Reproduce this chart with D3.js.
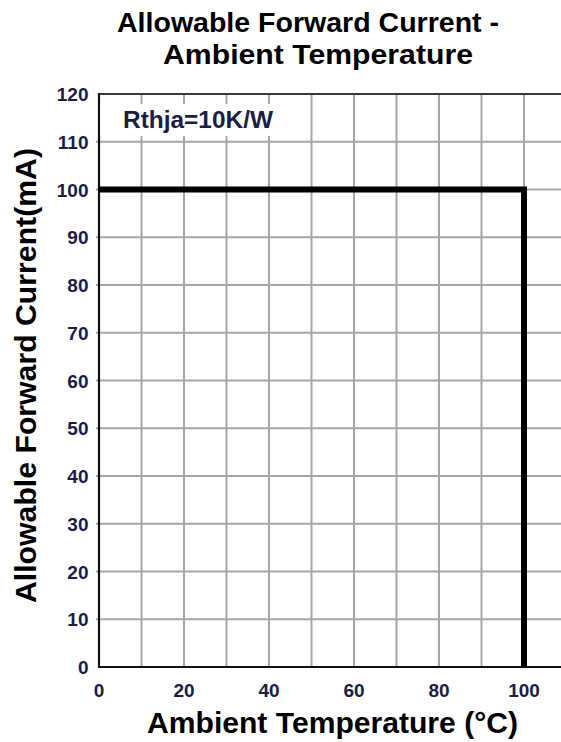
<!DOCTYPE html>
<html>
<head>
<meta charset="utf-8">
<script src="https://cdn.jsdelivr.net/npm/d3@7"></script>
<style>
  html, body { margin: 0; padding: 0; background: #fff; }
  svg { display: block; }
  text { font-family: "Liberation Sans", Arial, sans-serif; font-weight: bold; }
</style>
</head>
<body>
<svg id="chart" width="561" height="742"></svg>
<script>
// Derating curve: allowable forward current vs ambient temperature
const temperature = [0, 100, 100];          // °C
const current = [100, 100, 0];              // mA
const xTickLabels = [0, 20, 40, 60, 80, 100];
const yTickLabels = [0, 10, 20, 30, 40, 50, 60, 70, 80, 90, 100, 110, 120];
const xGrid = [10, 20, 30, 40, 50, 60, 70, 80, 90, 100, 110];
const titleLines = ["Allowable Forward Current -", "Ambient Temperature"];
const xTitle = "Ambient Temperature (°C)";
const yTitle = "Allowable Forward Current(mA)";
const note = "Rthja=10K/W";

const svg = d3.select("#chart");
const plotLeft = 99, plotTop = 94, plotBottom = 667;

const x = d3.scaleLinear().domain([0, 110]).range([plotLeft, plotLeft + 467.5]);
const y = d3.scaleLinear().domain([0, 120]).range([plotBottom, plotTop]);

const tickColor = "#1c1c44";

// grid
const grid = svg.append("g");
grid.selectAll("line.v").data(xGrid).join("line")
  .attr("x1", d => x(d)).attr("x2", d => x(d))
  .attr("y1", y(120)).attr("y2", y(0))
  .attr("stroke", "#a6a6a6").attr("stroke-width", 2);
grid.selectAll("line.h").data(yTickLabels.filter(d => d > 0 && d < 120)).join("line")
  .attr("x1", x(0) - 3).attr("x2", x(110))
  .attr("y1", d => y(d)).attr("y2", d => y(d))
  .attr("stroke", "#a6a6a6").attr("stroke-width", 2);

// frame: top border, left and bottom axes
svg.append("line").attr("x1", x(0)).attr("x2", x(110)).attr("y1", y(120)).attr("y2", y(120))
  .attr("stroke", "#3a3a3a").attr("stroke-width", 2.2);
svg.append("line").attr("x1", x(0)).attr("x2", x(110)).attr("y1", y(0)).attr("y2", y(0))
  .attr("stroke", "#111").attr("stroke-width", 2.2);
svg.append("line").attr("x1", x(0)).attr("x2", x(0)).attr("y1", y(120) - 1).attr("y2", y(0) + 1)
  .attr("stroke", "#111").attr("stroke-width", 2.2);

// note box
svg.append("rect")
  .attr("x", x(0) + 1.5).attr("y", 104)
  .attr("width", 194).attr("height", 32)
  .attr("fill", "#fff");
svg.append("text")
  .attr("x", 123).attr("y", 128)
  .attr("font-size", 24)
  .attr("textLength", 150).attr("lengthAdjust", "spacingAndGlyphs")
  .attr("fill", tickColor)
  .text(note);

// derating curve
const line = d3.line().x(d => x(d[0])).y(d => y(d[1]));
svg.append("path")
  .datum(temperature.map((t, i) => [t, current[i]]))
  .attr("d", line)
  .attr("fill", "none")
  .attr("stroke", "#000")
  .attr("stroke-width", 6)
  .attr("stroke-linejoin", "miter");

// tick labels
svg.append("g").selectAll("text").data(xTickLabels).join("text")
  .attr("x", d => x(d)).attr("y", 697)
  .attr("text-anchor", "middle")
  .attr("font-size", 19)
  .attr("fill", tickColor)
  .text(d => d);
svg.append("g").selectAll("text").data(yTickLabels).join("text")
  .attr("x", 88.5).attr("y", d => y(d) + 7)
  .attr("text-anchor", "end")
  .attr("font-size", 19)
  .attr("fill", tickColor)
  .text(d => d);

// titles
const titleLayout = [{x: 117, y: 32, w: 382}, {x: 163, y: 64, w: 310}];
svg.append("g").selectAll("text").data(titleLines).join("text")
  .attr("x", (d, i) => titleLayout[i].x).attr("y", (d, i) => titleLayout[i].y)
  .attr("textLength", (d, i) => titleLayout[i].w).attr("lengthAdjust", "spacingAndGlyphs")
  .attr("font-size", 28.5)
  .attr("fill", "#000")
  .text(d => d);
svg.append("text")
  .attr("x", 147).attr("y", 733)
  .attr("textLength", 371).attr("lengthAdjust", "spacingAndGlyphs")
  .attr("font-size", 29)
  .attr("fill", "#000")
  .text(xTitle);
svg.append("text")
  .attr("transform", "translate(36,603) rotate(-90)")
  .attr("textLength", 455).attr("lengthAdjust", "spacingAndGlyphs")
  .attr("font-size", 29)
  .attr("fill", "#000")
  .text(yTitle);
</script>
</body>
</html>
